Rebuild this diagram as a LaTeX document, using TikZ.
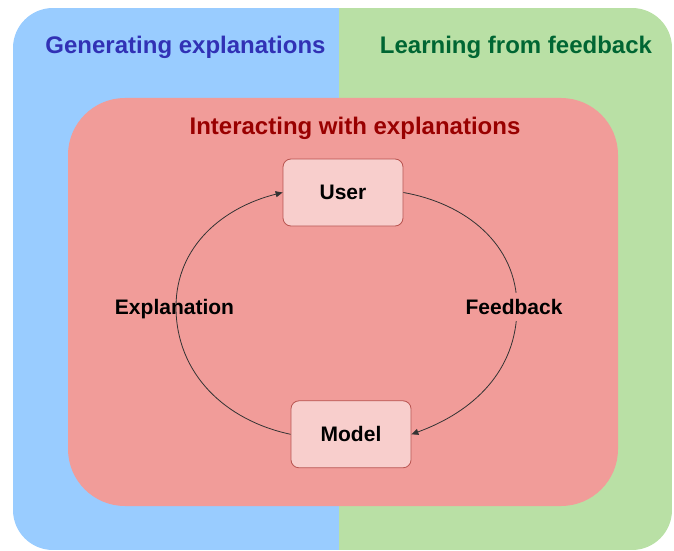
\documentclass[tikz,border=0pt]{standalone}
\usepackage{fontspec}
\setmainfont{Liberation Sans}
\usetikzlibrary{arrows.meta,positioning}

\definecolor{genblue}{HTML}{99CCFF}
\definecolor{learngreen}{HTML}{B9E0A5}
\definecolor{interred}{HTML}{F19C99}
\definecolor{actorfill}{HTML}{F8CECC}
\definecolor{actorline}{HTML}{B85450}
\definecolor{gentext}{HTML}{3131B5}
\definecolor{learntext}{HTML}{006633}
\definecolor{intertext}{HTML}{990000}
\definecolor{loopline}{HTML}{333333}

\tikzset{
  areatitle/.style={anchor=base, inner sep=0pt, font=\fontsize{24}{28}\selectfont\bfseries},
  actor/.style={draw=actorline, line width=0.8pt, fill=actorfill, rounded corners=8pt, minimum width=120pt, minimum height=67pt, font=\fontsize{21}{25}\selectfont\bfseries},
  looplabel/.style={anchor=base, inner sep=6pt, font=\fontsize{21}{25}\selectfont\bfseries},
  loopedge/.style={-{Triangle[length=7pt,width=6pt]}, draw=loopline, line width=0.8pt}
}

\begin{document}
\begin{tikzpicture}[x=1pt, y=1pt]
\useasboundingbox (0,0) rectangle (674,550);

% outer area, split in two halves
\begin{scope}
\clip[rounded corners=40pt] (13,0) rectangle (672,542);
\fill[genblue] (13,0) rectangle (339,542);
\fill[learngreen] (339,0) rectangle (672,542);
\end{scope}

% inner area
\fill[interred, rounded corners=57pt] (68,44) rectangle (618,452);

\node[areatitle, text=gentext] (gen) at (185.5,496.7) {Generating explanations};
\node[areatitle, text=learntext] (learn) at (516,496.7) {Learning from feedback};
\node[areatitle, text=intertext] (inter) at (355,415) {Interacting with explanations};

\node[actor] (user) at (343,357.5) {User};
\node[actor, below = 174pt of user, xshift=8pt] (model) {Model};

\coordinate (lft) at (176,243);
\coordinate (rgt) at (517,243);

\draw[loopedge] (model.west) to[out=168, in=270] (lft) to[out=90, in=194] (user.west);
\draw[loopedge] (user.east) to[out=-10, in=90] (rgt) to[out=270, in=20] (model.east);

\node[looplabel] (expl) at (174.5,235.7) {Explanation};
\node[looplabel, fill=interred, inner xsep=2pt] (feed) at (514,235.7) {Feedback};

\end{tikzpicture}
\end{document}
